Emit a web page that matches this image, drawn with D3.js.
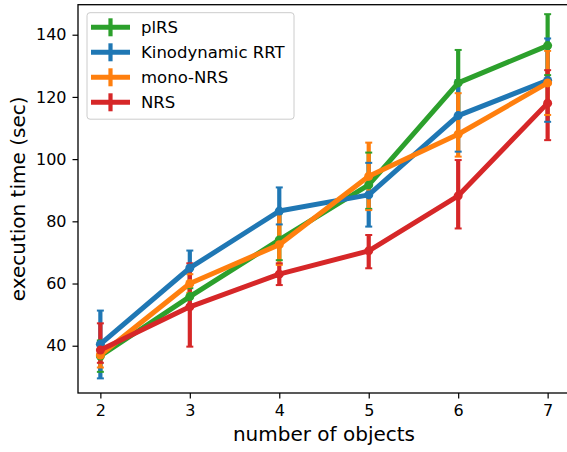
<!DOCTYPE html>
<html>
<head>
<meta charset="utf-8">
<script src="https://cdn.jsdelivr.net/npm/d3@7"></script>
<style>
  body { margin: 0; background: #fff; }
  text { font-family: 'DejaVu Sans', sans-serif; fill: #000; }
</style>
</head>
<body>
<div id="graph"></div>
<script>
'use strict';
// number of objects on the x axis
var objects = [2, 3, 4, 5, 6, 7];
var xTicks = [2, 3, 4, 5, 6, 7];
var yTicks = [40, 60, 80, 100, 120, 140];

// mean execution time and the low / high end of each error bar
var plrsMean = [36.7, 55.8, 74.0, 91.7, 124.5, 136.5];
var plrsLow  = [31.6, 53.0, 67.5, 84.0, 114.0, 127.0];
var plrsHigh = [41.7, 58.5, 82.6, 102.1, 135.1, 146.6];

var rrtMean = [40.5, 65.0, 83.3, 88.5, 114.0, 125.3];
var rrtLow  = [29.5, 59.5, 79.0, 78.3, 102.4, 112.0];
var rrtHigh = [51.3, 70.6, 90.9, 98.8, 125.4, 138.8];

var monoMean = [37.0, 60.0, 72.5, 94.5, 108.0, 124.5];
var monoLow  = [33.0, 57.0, 66.0, 83.6, 100.8, 114.2];
var monoHigh = [41.0, 63.0, 83.1, 105.3, 121.2, 134.8];

var nrsMean = [38.6, 52.5, 63.0, 70.5, 88.2, 118.0];
var nrsLow  = [34.5, 39.7, 59.5, 64.9, 77.7, 106.1];
var nrsHigh = [47.2, 66.5, 66.5, 75.6, 99.7, 128.6];

var labels = ['plRS', 'Kinodynamic RRT', 'mono-NRS', 'NRS'];
var colors = ['#2ca02c', '#1f77b4', '#ff7f0e', '#d62728'];

var series = [
  {name: labels[0], color: colors[0], mean: plrsMean, low: plrsLow, high: plrsHigh},
  {name: labels[1], color: colors[1], mean: rrtMean, low: rrtLow, high: rrtHigh},
  {name: labels[2], color: colors[2], mean: monoMean, low: monoLow, high: monoHigh},
  {name: labels[3], color: colors[3], mean: nrsMean, low: nrsLow, high: nrsHigh}
];

var canvasWidth = 567;
var canvasHeight = 452;
var plot = {left: 78, right: 570, top: 4.7, bottom: 393};

var svg = d3.select('#graph')
  .append('svg')
  .attr('width', canvasWidth)
  .attr('height', canvasHeight);

var xScale = d3.scaleLinear().domain([1.75, 7.25]).range([plot.left, plot.right]);
var yScale = d3.scaleLinear().domain([24.8, 149.65]).range([plot.bottom, plot.top]);

var graphArea = svg.append('g');

// error bars first (all series), then caps, then lines + markers on top
series.forEach(function(s) {
  graphArea.append('g').selectAll('line')
    .data(objects)
    .enter()
    .append('line')
    .attr('x1', function(d) { return xScale(d); })
    .attr('x2', function(d) { return xScale(d); })
    .attr('y1', function(d, i) { return yScale(s.low[i]); })
    .attr('y2', function(d, i) { return yScale(s.high[i]); })
    .attr('stroke', s.color)
    .attr('stroke-width', 4.2);
});

series.forEach(function(s) {
  var caps = [];
  objects.forEach(function(d, i) {
    caps.push({x: d, y: s.low[i]});
    caps.push({x: d, y: s.high[i]});
  });
  graphArea.append('g').selectAll('line')
    .data(caps)
    .enter()
    .append('line')
    .attr('x1', function(d) { return xScale(d.x) - 3.5; })
    .attr('x2', function(d) { return xScale(d.x) + 3.5; })
    .attr('y1', function(d) { return yScale(d.y); })
    .attr('y2', function(d) { return yScale(d.y); })
    .attr('stroke', s.color)
    .attr('stroke-width', 2);
});

var line = d3.line()
  .x(function(d) { return xScale(d[0]); })
  .y(function(d) { return yScale(d[1]); });

series.forEach(function(s) {
  var pts = objects.map(function(d, i) { return [d, s.mean[i]]; });
  graphArea.append('path')
    .datum(pts)
    .attr('d', line)
    .attr('fill', 'none')
    .attr('stroke', s.color)
    .attr('stroke-width', 5)
    .attr('stroke-linejoin', 'round');
  graphArea.append('g').selectAll('circle')
    .data(pts)
    .enter()
    .append('circle')
    .attr('cx', function(d) { return xScale(d[0]); })
    .attr('cy', function(d) { return yScale(d[1]); })
    .attr('r', 4.5)
    .attr('fill', s.color);
});

// axes
var xAxis = svg.append('g')
  .attr('transform', 'translate(0,' + plot.bottom + ')')
  .call(d3.axisBottom(xScale).tickValues(xTicks).tickFormat(d3.format('d'))
    .tickSizeOuter(0).tickSize(5.5).tickPadding(6));
var yAxis = svg.append('g')
  .attr('transform', 'translate(' + plot.left + ',0)')
  .call(d3.axisLeft(yScale).tickValues(yTicks).tickFormat(d3.format('d'))
    .tickSizeOuter(0).tickSize(5.5).tickPadding(6));
[xAxis, yAxis].forEach(function(a) {
  a.select('.domain').remove();
  a.selectAll('.tick line').attr('stroke', '#000').attr('stroke-width', 1.2);
  a.selectAll('.tick text').attr('font-size', '16px').attr('font-family', 'DejaVu Sans');
});

// spines
svg.append('rect')
  .attr('x', plot.left)
  .attr('y', plot.top)
  .attr('width', plot.right - plot.left)
  .attr('height', plot.bottom - plot.top)
  .attr('fill', 'none')
  .attr('stroke', '#000')
  .attr('stroke-width', 1.3);

// axis titles
svg.append('text')
  .attr('x', (plot.left + plot.right) / 2)
  .attr('y', 441)
  .attr('text-anchor', 'middle')
  .attr('font-size', '20px')
  .text('number of objects');

svg.append('text')
  .attr('transform', 'translate(25,' + ((plot.top + plot.bottom) / 2) + ') rotate(-90)')
  .attr('text-anchor', 'middle')
  .attr('font-size', '20px')
  .text('execution time (sec)');

// legend
var legend = svg.append('g');
legend.append('rect')
  .attr('x', 87)
  .attr('y', 12.7)
  .attr('width', 207)
  .attr('height', 106.5)
  .attr('rx', 3)
  .attr('fill', 'rgba(255,255,255,0.8)')
  .attr('stroke', '#cccccc')
  .attr('stroke-width', 1);

var rows = legend.selectAll('.row')
  .data(series)
  .enter()
  .append('g')
  .attr('class', 'row')
  .attr('transform', function(d, i) { return 'translate(0,' + (27.3 + i * 25) + ')'; });
rows.append('line')
  .attr('x1', 91).attr('x2', 130).attr('y1', 0).attr('y2', 0)
  .attr('stroke', function(d) { return d.color; })
  .attr('stroke-width', 5);
rows.append('line')
  .attr('x1', 110.5).attr('x2', 110.5).attr('y1', -9).attr('y2', 9)
  .attr('stroke', function(d) { return d.color; })
  .attr('stroke-width', 4.2);
rows.append('text')
  .attr('x', 141)
  .attr('y', 0)
  .attr('dy', '0.36em')
  .attr('font-size', '16.5px')
  .text(function(d) { return d.name; });
</script>
</body>
</html>
